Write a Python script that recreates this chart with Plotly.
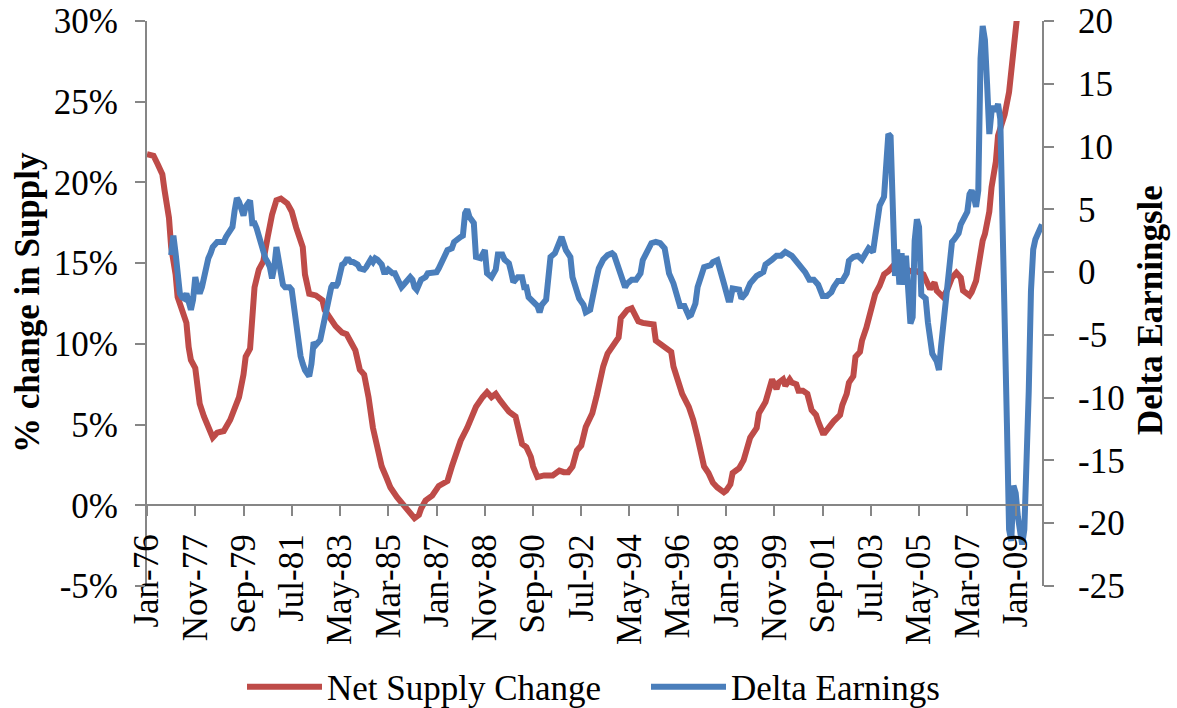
import pandas as pd
import plotly.graph_objects as go

START = "1976-01-01"
END = "2010-01-01"

# Net Supply Change (% change in supply), months since Jan-76
red_months = [
    0, 3, 5, 7, 8, 10, 11, 13, 14, 16,
    18, 19, 20, 22, 23, 24, 26, 28, 30, 32,
    35, 38, 40, 42, 44, 45, 47, 48, 49, 51,
    53, 55, 57, 59, 61, 64, 66, 68, 70, 71,
    72, 74, 77, 80, 81, 84, 86, 89, 91, 93,
    95, 97, 99, 101, 103, 105, 107, 109, 111, 114,
    117, 119, 121, 122, 124, 125, 127, 130, 133, 137,
    139, 141, 143, 146, 148, 150, 153, 155, 157, 159,
    161, 163, 165, 168, 169, 171, 173, 175, 176, 178,
    181, 183, 185, 188, 190, 192, 194, 196, 198, 200,
    203, 205, 206, 208, 210, 213, 215, 216, 219, 221,
    222, 224, 226, 229, 231, 232, 235, 237, 239, 240,
    242, 244, 247, 249, 251, 253, 254, 256, 258, 260,
    263, 264, 266, 267, 270, 272, 275, 278, 279, 282,
    284, 285, 287, 288, 290, 291, 293, 294, 296, 297,
    299, 301, 303, 305, 306, 308, 309, 311, 313, 316,
    317, 319, 320, 322, 323, 325, 326, 328, 329, 331,
    332, 334, 336, 338, 340, 342, 345, 348, 351, 354,
    357, 359, 360, 363, 365, 367, 369, 371, 372, 375,
    376, 378, 379, 381, 382, 384, 385, 387, 388, 390,
    391, 393, 394, 395, 396, 398, 400,
]
red_values = [
    21.75, 21.65, 21.1, 20.5, 19.5, 17.8, 16.0, 14.3, 12.9, 12.0,
    11.3, 9.8, 9.0, 8.5, 7.1, 6.3, 5.5, 4.85, 4.2, 4.5,
    4.6, 5.3, 6.1, 6.7, 8.1, 9.2, 9.7, 12.5, 13.5, 14.6,
    15.1, 16.6, 18.0, 18.9, 19.0, 18.7, 18.2, 17.2, 16.4, 16.0,
    14.3, 13.1, 13.0, 12.7, 12.1, 11.4, 11.1, 10.7, 10.6, 10.1,
    9.6, 8.4, 8.1, 6.7, 4.8, 3.6, 2.4, 1.75, 1.1, 0.5,
    0.0, -0.3, -0.6, -0.8, -0.6, -0.2, 0.3, 0.6, 1.2, 1.5,
    2.4, 3.2, 4.0, 4.8, 5.4, 6.1, 6.7, 7.0, 6.7, 6.9,
    6.5, 6.1, 5.8, 5.5, 4.9, 3.8, 3.6, 3.0, 2.4, 1.75,
    1.85, 1.85, 1.85, 2.15, 2.05, 2.05, 2.4, 3.4, 3.7, 4.85,
    5.7, 6.8, 7.5, 8.6, 9.4, 10.0, 10.4, 11.6, 12.1, 12.2,
    11.9, 11.4, 11.3, 11.2, 11.2, 10.2, 9.9, 9.7, 9.5, 8.6,
    7.7, 6.9, 6.1, 5.3, 4.2, 3.2, 2.4, 2.0, 1.4, 1.1,
    0.8, 0.9, 1.3, 2.0, 2.3, 2.8, 4.2, 4.8, 5.7, 6.4,
    7.5, 7.8, 7.2, 7.6, 7.8, 7.4, 7.8, 7.6, 7.5, 7.1,
    7.1, 6.9, 5.9, 5.6, 5.2, 4.5, 4.5, 4.9, 5.2, 5.6,
    6.2, 6.9, 7.6, 8.0, 9.2, 9.5, 10.2, 11.0, 11.5, 12.3,
    13.1, 13.6, 14.3, 14.5, 14.8, 14.7, 14.7, 14.5, 14.5, 14.3,
    13.4, 13.8, 13.3, 12.9, 13.4, 14.1, 14.4, 14.1, 13.3, 13.0,
    13.2, 13.9, 14.8, 16.4, 16.8, 18.2, 19.7, 21.3, 22.9, 23.8,
    24.2, 25.6, 27.2, 29.0, 30.1, 32.5, 34.5,
]

# Delta Earnings (right axis), months since Jan-76
blue_months = [
    11, 12, 13, 14, 15, 16, 17, 18, 19, 20,
    21, 22, 23, 24, 25, 26, 27, 28, 29, 30,
    32, 33, 34, 35, 36, 38, 39, 40, 41, 42,
    43, 44, 45, 46, 47, 48, 49, 50, 51, 52,
    53, 54, 55, 56, 57, 58, 59, 60, 61, 62,
    63, 65, 66, 67, 68, 69, 70, 71, 72, 74,
    75, 76, 77, 79, 80, 81, 82, 83, 84, 85,
    86, 87, 88, 89, 90, 91, 92, 93, 94, 95,
    96, 97, 98, 99, 100, 101, 102, 103, 104, 105,
    106, 107, 108, 109, 110, 111, 112, 113, 114, 115,
    116, 117, 118, 119, 120, 121, 122, 123, 124, 125,
    126, 127, 128, 129, 130, 131, 132, 133, 134, 135,
    136, 137, 139, 140, 143, 144, 145, 146, 147, 149,
    150, 152, 154, 155, 157, 159, 160, 162, 163, 165,
    166, 167, 169, 171, 172, 173, 174, 176, 178, 179,
    180, 182, 183, 184, 186, 188, 189, 191, 193, 194,
    196, 197, 199, 200, 202, 203, 205, 206, 208, 210,
    212, 213, 215, 216, 218, 219, 221, 223, 225, 226,
    228, 230, 232, 234, 236, 237, 238, 240, 242, 243,
    245, 247, 248, 250, 251, 253, 254, 257, 258, 260,
    262, 263, 265, 266, 267, 270, 271, 273, 275, 276,
    278, 281, 282, 285, 287, 289, 291, 294, 296, 298,
    300, 302, 304, 306, 308, 310, 312, 313, 315, 317,
    319, 320, 322, 324, 326, 328, 329, 331, 333, 334,
    336, 337, 338, 339, 340, 341, 342, 343, 344, 345,
    346, 347, 348, 349, 350, 351, 352, 353, 355, 356,
    357, 358, 360, 361, 362, 363, 364, 365, 366, 367,
    368, 370, 371, 372, 373, 374, 375, 376, 377, 378,
    379, 380, 381, 382, 383, 384, 385, 386, 387, 388,
    389, 390, 391, 392, 393, 394, 395, 396, 397, 398,
    399, 400, 401, 402, 403, 404, 405, 406, 407, 408,
]
blue_values = [
    1.35, 2.9, 1.5, -0.6, -1.7, -2.0, -2.1, -1.7, -2.5, -3.0,
    -2.2, -0.4, -1.2, -1.7, -1.2, -0.4, 0.4, 1.1, 1.5, 2.0,
    2.4, 2.4, 2.5, 2.4, 2.8, 3.3, 3.6, 4.9, 5.9, 5.6,
    4.9, 4.5, 5.2, 5.5, 5.7, 3.9, 3.9, 3.5, 2.8, 2.0,
    1.4, 1.1, 0.8, 0.4, -0.5, 0.4, 2.0, 1.0, -0.6, -1.0,
    -1.2, -1.2, -1.4, -2.8, -4.1, -5.4, -6.7, -7.3, -7.8, -8.3,
    -7.3, -5.6, -5.8, -5.4, -4.5, -3.7, -2.8, -2.0, -1.2, -0.9,
    -1.2, -0.9, -0.1, 0.6, 0.7, 1.0, 1.0, 0.8, 0.8, 0.7,
    0.6, 0.3, 0.2, 0.2, 0.4, 0.8, 1.0, 0.8, 1.1, 1.0,
    0.7, 0.6, 0.0, 0.0, 0.2, 0.0, -0.1, -0.1, -0.5, -0.9,
    -1.2, -1.0, -0.8, -0.5, -0.4, -0.6, -1.2, -1.4, -1.0, -0.6,
    -0.5, -0.4, -0.1, -0.1, -0.1, 0.0, 0.0, 0.3, 0.7, 1.1,
    1.5, 1.75, 1.9, 2.4, 2.8, 2.9, 4.7, 5.0, 4.4, 3.9,
    1.2, 1.1, 1.75, -0.1, -0.4, 0.2, 1.4, 1.4, 1.0, 0.7,
    0.0, -0.8, -0.4, -0.4, -1.2, -1.2, -2.0, -2.3, -2.7, -3.2,
    -2.6, -2.2, -0.9, 1.2, 1.5, 2.3, 2.8, 1.75, 1.2, -0.4,
    -1.4, -2.1, -2.6, -3.2, -3.0, -2.0, -0.4, 0.3, 1.0, 1.35,
    1.5, 1.35, 0.3, -0.1, -1.2, -0.9, -0.6, -0.6, -0.1, 0.95,
    1.75, 2.3, 2.4, 2.3, 1.9, 0.95, -0.1, -0.9, -2.1, -2.7,
    -2.7, -3.5, -3.4, -2.5, -1.2, -0.1, 0.4, 0.55, 0.8, 0.95,
    -0.1, -0.9, -2.2, -2.2, -1.3, -1.4, -2.1, -1.7, -0.9, -0.7,
    -0.3, 0.0, 0.6, 1.0, 1.3, 1.3, 1.6, 1.3, 0.9, 0.4,
    0.0, -0.6, -0.6, -1.0, -1.9, -1.9, -1.6, -1.2, -0.7, -0.7,
    -0.1, 0.9, 1.2, 1.3, 1.0, 1.6, 1.9, 1.6, 4.4, 5.3,
    6.0, 9.5, 11.0, 10.8, 6.0, -0.3, 1.8, -1.0, 1.5, -1.0,
    1.3, -0.8, -4.1, -3.6, 2.5, 4.2, 3.6, -1.8, -2.1, -4.0,
    -5.6, -6.5, -7.1, -7.8, -6.0, -4.2, -2.0, 0.0, 1.5, 2.4,
    2.6, 3.1, 3.8, 4.1, 4.3, 4.8, 6.2, 6.5, 6.0, 5.2,
    6.5, 17.0, 19.6, 18.5, 15.0, 11.0, 12.8, 13.2, 12.8, 13.4,
    12.2, 5.6, -3.0, -12.0, -20.5, -21.4, -17.0, -17.6, -19.5, -21.0,
    -21.7, -20.5, -15.5, -9.5, -1.5, 1.8, 2.6, 3.2, 3.4, 3.8,
]

x_tick_labels = ["Jan-76", "Nov-77", "Sep-79", "Jul-81", "May-83", "Mar-85",
                 "Jan-87", "Nov-88", "Sep-90", "Jul-92", "May-94", "Mar-96",
                 "Jan-98", "Nov-99", "Sep-01", "Jul-03", "May-05", "Mar-07",
                 "Jan-09"]
x_tick_step_months = 22
left_tick_vals = [-5, 0, 5, 10, 15, 20, 25, 30]
left_tick_text = ["-5%", "0%", "5%", "10%", "15%", "20%", "25%", "30%"]
right_tick_vals = [-25, -20, -15, -10, -5, 0, 5, 10, 15, 20]
right_tick_text = ["-25", "-20", "-15", "-10", "-5", "0", "5", "10", "15", "20"]

assert len(red_months) == len(red_values)
assert len(blue_months) == len(blue_values)

start = pd.Timestamp(START)


def to_dates(months):
    return [start + pd.DateOffset(months=int(m)) for m in months]


red_x = to_dates(red_months)
blue_x = to_dates(blue_months)
x_tick_vals = to_dates([i * x_tick_step_months for i in range(len(x_tick_labels))])

RED = "#BE4B48"
BLUE = "#4A7EBB"
AXIS = "#868686"
SERIF = "Liberation Serif"
FS = 35

W, H = 1177, 708
ML, MR, MT, MB = 147, 135, 21, 122
PW, PH = W - ML - MR, H - MT - MB

fig = go.Figure()
fig.add_trace(go.Scatter(x=red_x, y=red_values, mode="lines", name="Net Supply Change",
                         line=dict(color=RED, width=6), yaxis="y"))
fig.add_trace(go.Scatter(x=blue_x, y=blue_values, mode="lines", name="Delta Earnings",
                         line=dict(color=BLUE, width=6), yaxis="y2"))

axis_common = dict(showgrid=False, zeroline=False, showline=True, linecolor=AXIS,
                   linewidth=2, ticks="outside", ticklen=10, tickwidth=2, tickcolor=AXIS,
                   automargin=False,
                   tickfont=dict(family=SERIF, size=FS, color="black"))

y_lo, y_hi = left_tick_vals[0], left_tick_vals[-1]

fig.update_layout(
    template="none",
    width=W, height=H,
    margin=dict(l=ML, r=MR, t=MT, b=MB, pad=0, autoexpand=False),
    paper_bgcolor="white", plot_bgcolor="white",
    font=dict(family=SERIF, size=FS, color="black"),
    xaxis=dict(type="date", range=[START, END], tickvals=x_tick_vals, ticktext=x_tick_labels,
               tickangle=-90, anchor="free", position=(0 - y_lo) / (y_hi - y_lo),
               ticklabelstandoff=4, **axis_common),
    yaxis=dict(range=[y_lo, y_hi], tickvals=left_tick_vals, ticktext=left_tick_text,
               ticklabelstandoff=10, **axis_common),
    yaxis2=dict(range=[right_tick_vals[0], right_tick_vals[-1]], tickvals=right_tick_vals,
                ticktext=right_tick_text, overlaying="y", side="right",
                ticklabelstandoff=17, **axis_common),
    showlegend=True,
    legend=dict(orientation="h", x=(242 - ML) / PW, xanchor="left",
                y=(H - MB - 687) / PH, yanchor="middle",
                font=dict(family=SERIF, size=FS, color="black"),
                itemwidth=75, entrywidth=314, entrywidthmode="pixels",
                bgcolor="rgba(0,0,0,0)", borderwidth=0),
    annotations=[
        dict(text="<b>% change in Supply</b>", textangle=-90, showarrow=False,
             xref="paper", yref="paper", x=(27 - ML) / PW,
             y=(H - MB - 303) / PH, xanchor="center", yanchor="middle",
             font=dict(family=SERIF, size=FS, color="black")),
        dict(text="<b>Delta Earningsle</b>", textangle=-90, showarrow=False,
             xref="paper", yref="paper", x=(1150 - ML) / PW,
             y=(H - MB - 310) / PH, xanchor="center", yanchor="middle",
             font=dict(family=SERIF, size=FS, color="black")),
    ],
)

fig.write_html(
    "out.html",
    config={"displayModeBar": False},
    post_script="document.body.style.margin='0';document.body.style.overflow='hidden';",
)
